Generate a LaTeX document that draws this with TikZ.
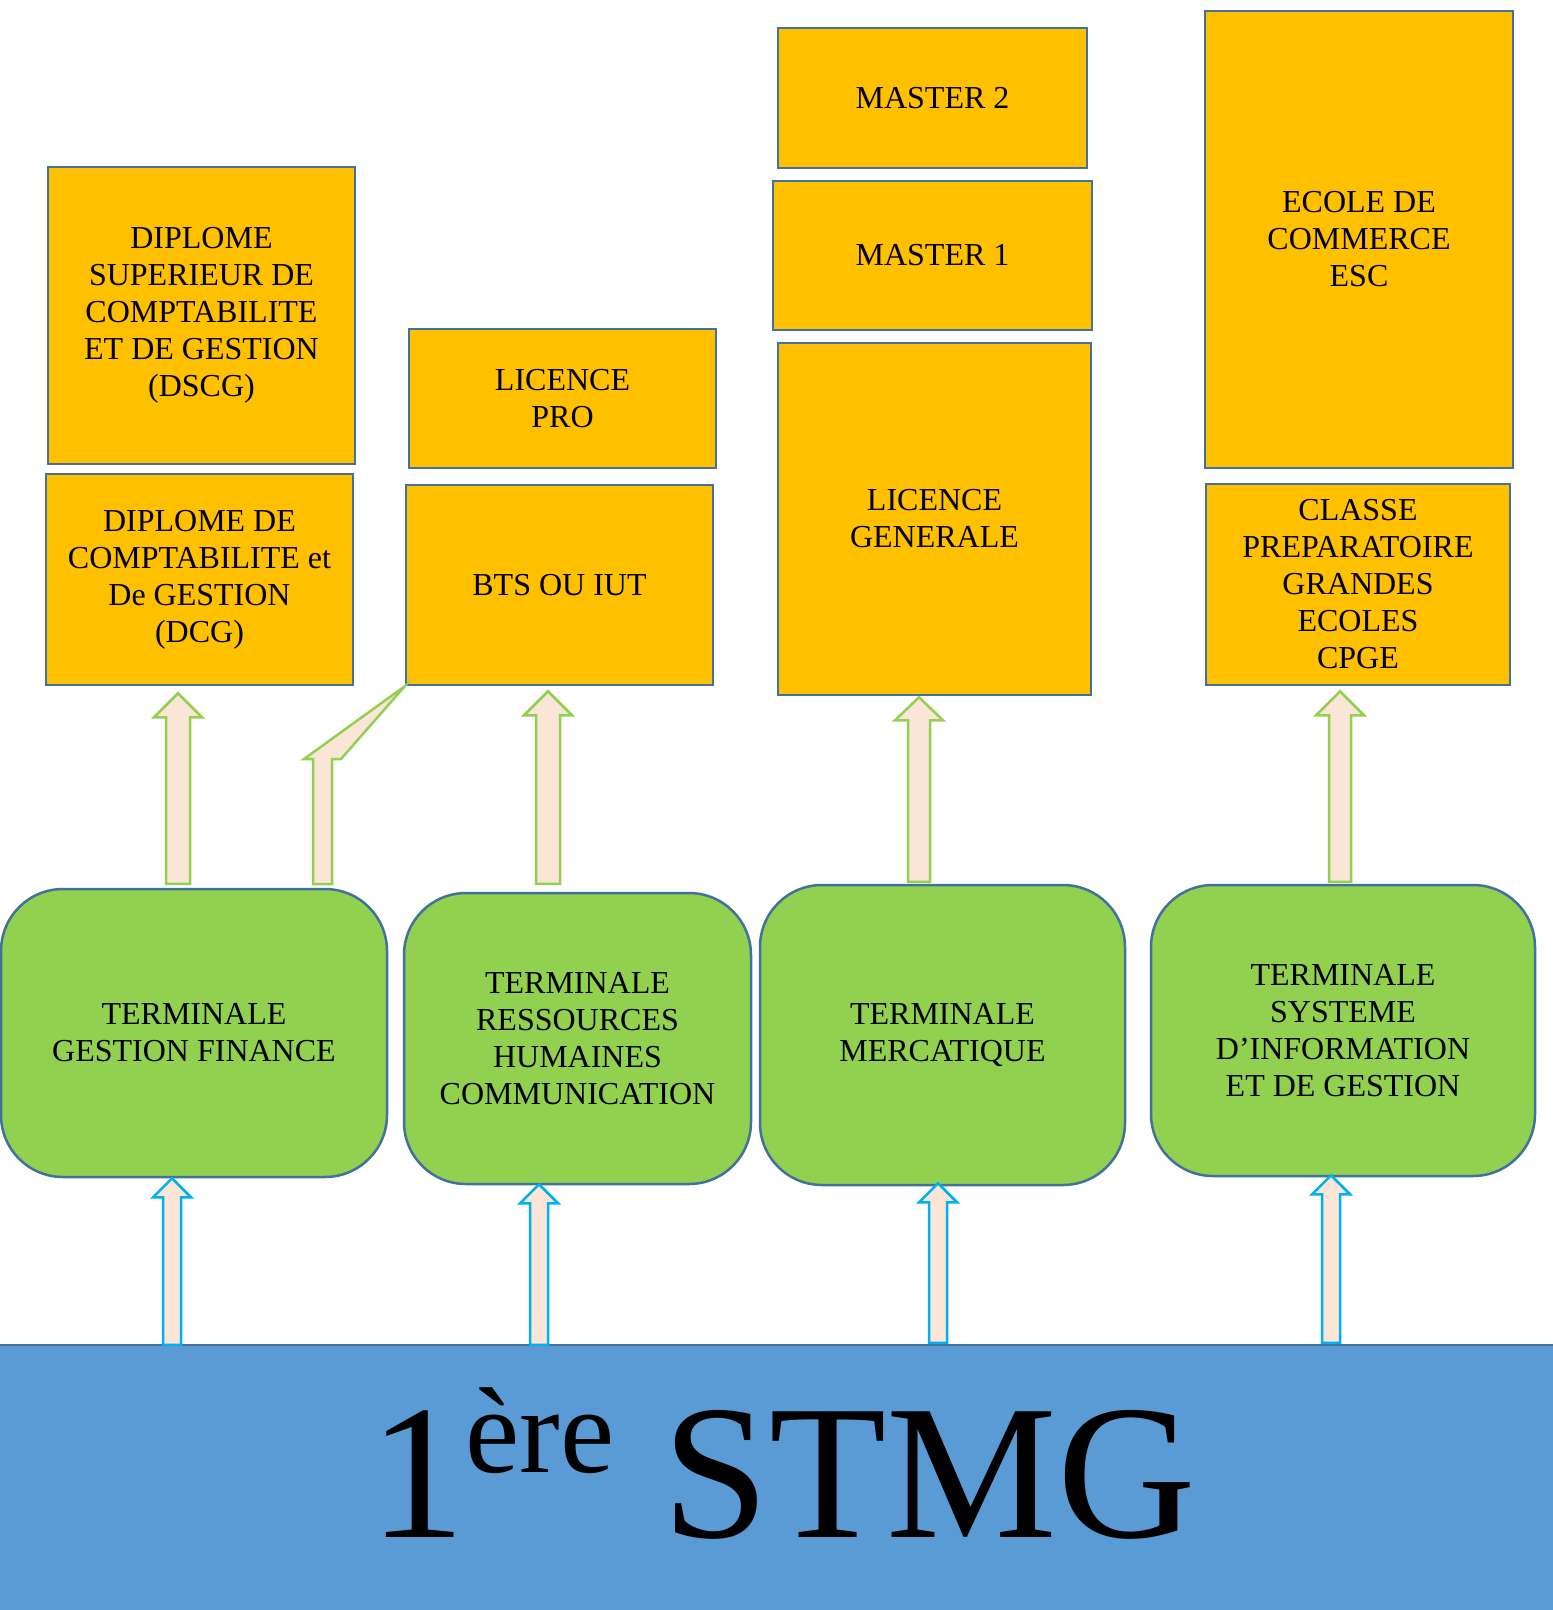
\documentclass[tikz,border=0pt]{standalone}
\usepackage{fontspec}
\setmainfont{Liberation Serif}
\usetikzlibrary{positioning, calc}

\definecolor{boxorange}{HTML}{FFC000}
\definecolor{boxgreen}{HTML}{92D050}
\definecolor{boxedge}{HTML}{41719C}
\definecolor{barblue}{HTML}{5B9BD5}
\definecolor{arrowfill}{HTML}{FBE5D6}
\definecolor{arrowcyan}{HTML}{00B0F0}

\tikzset{
    diplome/.style={draw=boxedge, line width=2.5pt, fill=boxorange, inner sep=0pt,
        align=center, font=\fontsize{32}{37}\selectfont},
    terminale/.style={draw=boxedge, line width=2.5pt, fill=boxgreen, inner sep=0pt,
        rounded corners=62pt, align=center, font=\fontsize{32}{37}\selectfont},
    uparrow/.style={draw=boxgreen, line width=2.5pt, fill=arrowfill},
    lowarrow/.style={draw=arrowcyan, line width=2.5pt, fill=arrowfill}
}

\begin{document}
\begin{tikzpicture}[x=1pt, y=-1pt]

        \useasboundingbox (0,0) rectangle (1553,1610);

        % block arrow: style, x, from, to, half shaft, half head, head length
        \newcommand{\blockup}[7]{%
            \draw[#1] let \p1=(#3), \p2=(#4) in
                (#2pt-#5pt,\y1) -- (#2pt-#5pt,\y2-#7pt) -- (#2pt-#6pt,\y2-#7pt) -- (#2pt,\y2)
                -- (#2pt+#6pt,\y2-#7pt) -- (#2pt+#5pt,\y2-#7pt) -- (#2pt+#5pt,\y1) -- cycle;}

        % bottom bar
        \node[fill=barblue, inner sep=0pt, minimum width=1553pt, minimum height=265pt] (stmg) at (776.5,1477.5) {};
        \draw[boxedge, line width=2.5pt] (stmg.north west) -- (stmg.north east);
        \node[anchor=base, inner sep=0pt, font=\fontsize{192}{192}\selectfont] (stmgtext) at (783,1537)
            {1\raisebox{65pt}{\fontsize{122}{122}\selectfont ère} STMG};

        % terminales
        \node[terminale, minimum width=386pt, minimum height=288pt] (gf) at (194,1033) {TERMINALE\\GESTION FINANCE};
        \node[terminale, minimum width=347pt, minimum height=291pt] (rh) at (577.5,1038.5) {TERMINALE\\RESSOURCES\\HUMAINES\\COMMUNICATION};
        \node[terminale, minimum width=365pt, minimum height=300pt] (merc) at (942.5,1035) {TERMINALE\\MERCATIQUE};
        \node[terminale, minimum width=384pt, minimum height=291pt] (sig) at (1343,1030.5) {TERMINALE\\SYSTEME\\D’INFORMATION\\ET DE GESTION};

        % poursuites d'etudes
        \node[diplome, minimum width=307pt, minimum height=297pt] (dscg) at (201.5,315.5) {DIPLOME\\SUPERIEUR DE\\COMPTABILITE\\ET DE GESTION\\(DSCG)};
        \node[diplome, minimum width=307pt, minimum height=211pt] (dcg) at (199.5,579.5) {DIPLOME DE\\COMPTABILITE et\\De GESTION\\(DCG)};
        \node[diplome, minimum width=307pt, minimum height=139pt] (lpro) at (562.5,398.5) {LICENCE\\PRO};
        \node[diplome, minimum width=307pt, minimum height=200pt] (bts) at (559.5,585) {BTS OU IUT};
        \node[diplome, minimum width=309pt, minimum height=140pt] (m2) at (932.5,98) {MASTER 2};
        \node[diplome, minimum width=319pt, minimum height=149pt] (m1) at (932.5,255.5) {MASTER 1};
        \node[diplome, minimum width=313pt, minimum height=352pt] (lg) at (934.5,519) {LICENCE\\GENERALE};
        \node[diplome, minimum width=308pt, minimum height=457pt] (esc) at (1359,239.5) {ECOLE DE\\COMMERCE\\ESC};
        \node[diplome, minimum width=304pt, minimum height=201pt] (cpge) at (1358,584.5) {CLASSE\\PREPARATOIRE\\GRANDES\\ECOLES\\CPGE};

        % fleches de la 1ere vers les terminales
        \blockup{lowarrow}{172}{stmg.north}{gf.south}{9}{19}{19}
        \blockup{lowarrow}{539}{stmg.north}{[yshift=1pt]rh.south}{9}{19}{19}
        \blockup{lowarrow}{938}{[yshift=2pt]stmg.north}{[yshift=3pt]merc.south}{9}{19}{19}
        \blockup{lowarrow}{1331}{[yshift=2pt]stmg.north}{[yshift=2pt]sig.south}{9}{19}{19}

        % fleches des terminales vers les etudes
        \blockup{uparrow}{178}{[yshift=4pt]gf.north}{[yshift=-7pt]dcg.south}{12}{24}{24}
        \blockup{uparrow}{548}{[yshift=8pt]rh.north}{[yshift=-5pt]bts.south}{12}{24}{24}
        \blockup{uparrow}{919}{[yshift=2pt]merc.north}{[yshift=-1pt]lg.south}{11}{24}{23}
        \blockup{uparrow}{1340}{[yshift=2pt]sig.north}{[yshift=-5pt]cpge.south}{11}{24}{24}
        \draw[uparrow] (313,884) -- (313,759) -- (304,759) -- (bts.south west)
            -- (341,759) -- (332,759) -- (332,884) -- cycle;

\end{tikzpicture}
\end{document}
